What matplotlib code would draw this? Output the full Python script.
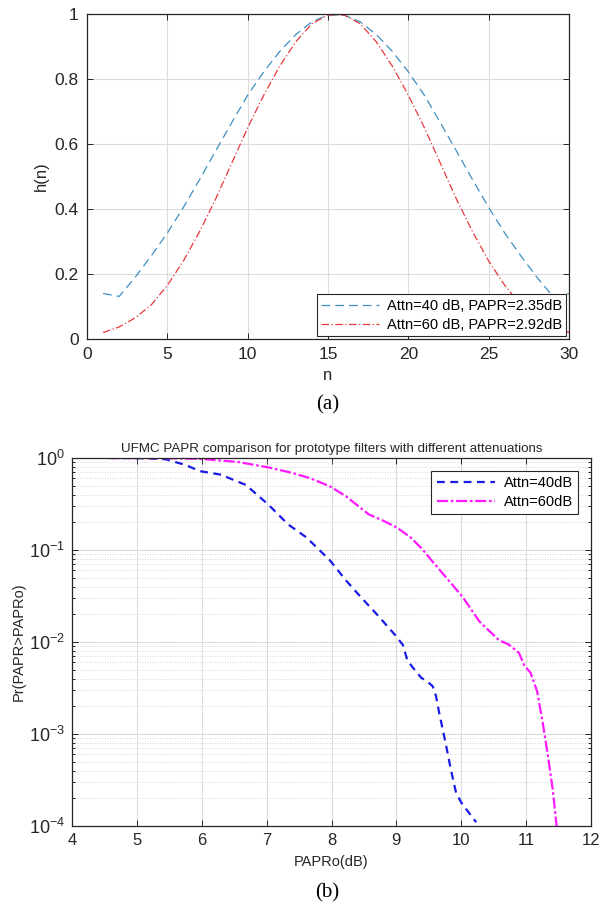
import matplotlib.pyplot as plt
import matplotlib.ticker as mticker
import numpy as np

plt.rcParams['font.family'] = ['Liberation Sans', 'DejaVu Sans']
plt.rcParams['mathtext.fontset'] = 'custom'
plt.rcParams['mathtext.rm'] = 'Liberation Sans'
plt.rcParams['axes.unicode_minus'] = False

# (a) prototype filter taps
n = list(range(1, 31))
h40 = [0.140, 0.131, 0.190, 0.256, 0.326, 0.405, 0.490, 0.578, 0.665, 0.750,
       0.822, 0.885, 0.937, 0.976, 0.997, 0.997, 0.976, 0.937, 0.885, 0.822,
       0.750, 0.665, 0.578, 0.490, 0.405, 0.326, 0.256, 0.190, 0.131, 0.140]
h60 = [0.020, 0.037, 0.065, 0.105, 0.165, 0.240, 0.330, 0.430, 0.540, 0.650,
       0.750, 0.840, 0.915, 0.970, 0.997, 0.997, 0.970, 0.915, 0.840, 0.750,
       0.650, 0.540, 0.430, 0.330, 0.240, 0.165, 0.105, 0.065, 0.037, 0.020]

# (b) CCDF of PAPR
papr40 = [4.57, 5.10, 5.44, 5.75, 5.97, 6.29, 6.68, 7.03, 7.33, 7.62, 7.80, 7.97,
          8.22, 8.43, 8.71, 8.99, 9.10, 9.17, 9.28, 9.38, 9.48, 9.56, 9.61, 9.66,
          9.71, 9.76, 9.84, 9.92, 10.00, 10.10, 10.23]
ccdf40 = [1.0, 0.995, 0.97, 0.84, 0.72, 0.66, 0.51, 0.31, 0.19, 0.136, 0.102, 0.078,
          0.047, 0.032, 0.0196, 0.0117, 0.0093, 0.0063, 0.0050, 0.0041, 0.0037, 0.0033, 0.0026, 0.0017,
          0.00116, 0.00079, 0.00041, 0.00023, 0.00018, 0.000145, 0.00011]
papr60 = [4.57, 5.40, 5.97, 6.56, 7.03, 7.39, 7.68, 7.98, 8.22, 8.57, 8.81, 9.01,
          9.22, 9.40, 9.55, 9.76, 10.02, 10.28, 10.58, 10.74, 10.89, 10.97, 11.07,
          11.17, 11.25, 11.33, 11.41, 11.47]
ccdf60 = [1.0, 0.995, 0.98, 0.905, 0.79, 0.69, 0.60, 0.49, 0.385, 0.245, 0.206, 0.175,
          0.137, 0.102, 0.076, 0.051, 0.031, 0.0167, 0.0105, 0.0093, 0.0076, 0.0056, 0.0046,
          0.0029, 0.0014, 0.00062, 0.00025, 0.0001]

axcol = '#262626'
gridcol = '#dcdcdc'

fig = plt.figure(figsize=(6.01, 9.06), dpi=100)

# ---- (a)
ax1 = fig.add_axes([87/601, 1-339/906, (569-87)/601, (339-14)/906])
ax1.plot(n, h40, color='#3d8fc4', ls=(0, (7, 4)), lw=0.9, label='Attn=40 dB, PAPR=2.35dB')
ax1.plot(n, h60, color='#e8383d', ls=(0, (6, 2, 1, 2)), lw=0.9, label='Attn=60 dB, PAPR=2.92dB')
ax1.set_xlim(0, 30)
ax1.set_ylim(0, 1)
ax1.set_xticks([0, 5, 10, 15, 20, 25, 30])
ax1.set_yticks([0, 0.2, 0.4, 0.6, 0.8, 1])
ax1.yaxis.set_major_formatter(mticker.FuncFormatter(lambda v, p: '%g' % v))
ax1.grid(True, color=gridcol, lw=0.8)
ax1.set_axisbelow(True)
ax1.tick_params(direction='in', top=True, right=True, labelsize=12.5, colors=axcol,
                length=4, width=0.7, pad=6)
for s in ax1.spines.values():
    s.set_color(axcol)
    s.set_linewidth(0.9)
ax1.set_xlabel('n', fontsize=12, color=axcol, labelpad=4)
ax1.set_ylabel('h(n)', fontsize=12, color=axcol, labelpad=4)
leg1 = ax1.legend(loc='lower right', fontsize=10.5, fancybox=False, framealpha=1,
                  edgecolor=axcol, handlelength=4.0, borderaxespad=0.2,
                  borderpad=0.3, labelspacing=0.35, handletextpad=0.5)
leg1.get_frame().set_linewidth(0.8)

fig.text(328/601, 1-405/906, '(a)', family='Liberation Serif', fontsize=15,
         ha='center', va='center')

# ---- (b)
ax2 = fig.add_axes([72/601, 1-826/906, (591-72)/601, (826-458)/906])
ax2.semilogy(papr40, ccdf40, color='#1a1ae6', ls=(0, (3.5, 2.5)), lw=1.6, label='Attn=40dB')
ax2.semilogy(papr60, ccdf60, color='#ff19ff', ls=(0, (5, 1.2, 1.2, 1.2)), lw=1.6, label='Attn=60dB')
ax2.set_xlim(4, 12)
ax2.set_ylim(1e-4, 1)
ax2.set_xticks(range(4, 13))
ax2.yaxis.set_major_locator(mticker.LogLocator(base=10))
ax2.yaxis.set_minor_locator(mticker.LogLocator(base=10, subs=np.arange(2, 10)))
ax2.yaxis.set_minor_formatter(mticker.NullFormatter())
ax2.yaxis.set_major_formatter(mticker.FuncFormatter(lambda v, p: r'$\mathregular{10^{%d}}$' % round(np.log10(v))))
ax2.grid(True, which='major', color=gridcol, lw=0.8)
ax2.grid(True, which='minor', axis='y', color='#c8c8c8', lw=0.6, ls=(0, (1, 2)))
ax2.set_axisbelow(True)
ax2.tick_params(which='both', direction='in', top=True, right=True, colors=axcol, width=0.7)
ax2.tick_params(which='major', length=4, pad=5)
ax2.tick_params(axis='x', which='major', labelsize=12)
ax2.tick_params(axis='y', which='major', labelsize=13)
ax2.tick_params(which='minor', length=2)
for s in ax2.spines.values():
    s.set_color(axcol)
    s.set_linewidth(0.9)
ax2.set_title('UFMC PAPR comparison for prototype filters with different attenuations',
              fontsize=9.6, color=axcol, pad=4)
ax2.set_xlabel('PAPRo(dB)', fontsize=10.5, color=axcol, labelpad=5)
ax2.set_ylabel('Pr(PAPR>PAPRo)', fontsize=10.5, color=axcol, labelpad=2)
leg2 = ax2.legend(loc='upper right', fontsize=10.5, fancybox=False, framealpha=1,
                  edgecolor=axcol, handlelength=4.0, borderaxespad=0.9,
                  borderpad=0.35, labelspacing=0.35, handletextpad=0.6)
leg2.get_frame().set_linewidth(0.8)

fig.text(327/601, 1-893/906, '(b)', family='Liberation Serif', fontsize=15,
         ha='center', va='center')

fig.savefig('out.png', dpi=100)
